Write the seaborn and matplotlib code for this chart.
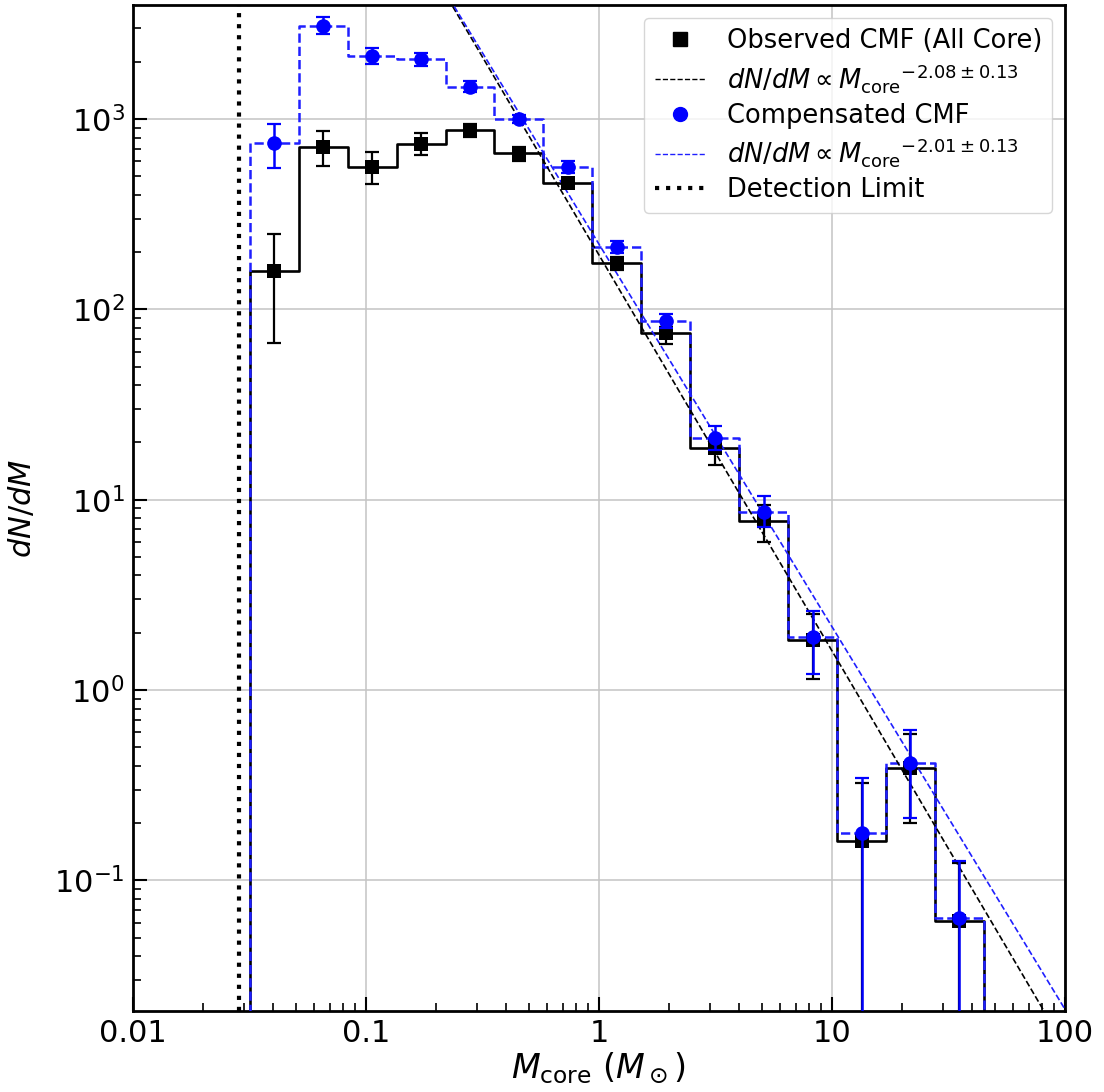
import numpy as np
import pandas as pd
import seaborn as sns
import matplotlib
matplotlib.use("Agg")
import matplotlib.pyplot as plt
from matplotlib.lines import Line2D

# ---------------- data ----------------
bin_edges = [0.0317, 0.0514, 0.0834, 0.1353, 0.2195, 0.3559, 0.5775, 0.9365,
             1.519, 2.464, 3.996, 6.481, 10.51, 17.04, 27.64, 44.83]
bin_centers = [0.0404, 0.0655, 0.1062, 0.1723, 0.2795, 0.4534, 0.7354, 1.193,
               1.935, 3.138, 5.089, 8.254, 13.39, 21.71, 35.2]

obs_values = [159, 716, 557, 739, 875, 661, 462, 176, 74.8, 18.6, 7.72, 1.83,
              0.162, 0.390, 0.0614]
obs_upper = [249, 865, 668, 841, 948, 710, 488, 189, 81, 20.6, 9.4, 2.52,
             0.325, 0.585, 0.123]
obs_lower = [67, 566, 455, 649, 807, 604, 435, 161, 65.5, 15.2, 6.0, 1.15,
             1e-4, 0.20, 1e-4]

comp_values = [750, 3085, 2143, 2060, 1479, 1000, 561, 212, 87, 21, 8.65, 1.90,
               0.177, 0.414, 0.0638]
comp_upper = [945, 3420, 2355, 2213, 1578, 1050, 600, 230, 95, 24.4, 10.4, 2.61,
              0.345, 0.614, 0.126]
comp_lower = [551, 2785, 1945, 1897, 1387, 950, 522, 197, 79.4, 18.2, 7.2, 1.21,
              1e-4, 0.213, 1e-4]

fit_obs_norm, fit_obs_slope = 193.0, -2.08
fit_comp_norm, fit_comp_slope = 220.0, -2.01
detection_limit = 0.0285

x_lim = (0.01, 100)
y_lim = (0.0206, 3975)

# ---------------- figure ----------------
sns.set_style("white")
plt.rcParams["font.family"] = ["DejaVu Sans"]
plt.rcParams["mathtext.fontset"] = "dejavusans"
for key in ["text.color", "axes.labelcolor", "xtick.color", "ytick.color",
            "axes.edgecolor"]:
    plt.rcParams[key] = "black"

fig = plt.figure(figsize=(11.04, 10.92), dpi=100)
ax = fig.add_axes([0.1205, 0.0742, 0.8442, 0.9212])
ax.set_xscale("log")
ax.set_yscale("log")

base = 1e-6
edges = np.array(bin_edges)


def step_frame(values):
    xs = np.repeat(edges, 2)
    ys = np.concatenate([[base], np.repeat(np.array(values), 2), [base]])
    return pd.DataFrame({"x": xs, "y": ys})


fit_x = np.logspace(np.log10(x_lim[0]), np.log10(x_lim[1]), 200)
df_fit = pd.DataFrame({
    "x": fit_x,
    "obs": fit_obs_norm * fit_x ** fit_obs_slope,
    "comp": fit_comp_norm * fit_x ** fit_comp_slope,
})

BLUE = "#0000ff"

sns.lineplot(data=step_frame(obs_values), x="x", y="y", estimator=None, sort=False,
             color="black", lw=1.9, ax=ax, zorder=3)
sns.lineplot(data=step_frame(comp_values), x="x", y="y", estimator=None, sort=False,
             color="#1f1fff", lw=1.8, linestyle="--", ax=ax, zorder=3.1)

sns.lineplot(data=df_fit, x="x", y="obs", color="black", lw=1.2, linestyle="--",
             ax=ax, zorder=4)
sns.lineplot(data=df_fit, x="x", y="comp", color="#1f1fff", lw=1.2, linestyle="--",
             ax=ax, zorder=4)

ax.axvline(detection_limit, color="black", lw=3.0, linestyle=":", zorder=4)

ov = np.array(obs_values)
cv = np.array(comp_values)
ax.errorbar(bin_centers, ov,
            yerr=[ov - np.array(obs_lower), np.array(obs_upper) - ov],
            fmt="none", ecolor="black", elinewidth=1.6, capsize=5, capthick=1.6,
            zorder=5)
sns.scatterplot(x=bin_centers, y=obs_values, marker="s", color="black", s=100,
                edgecolor="black", linewidth=0, ax=ax, zorder=6)
ax.errorbar(bin_centers, cv,
            yerr=[cv - np.array(comp_lower), np.array(comp_upper) - cv],
            fmt="none", ecolor=BLUE, elinewidth=1.8, capsize=5, capthick=1.6,
            zorder=7)
sns.scatterplot(x=bin_centers, y=comp_values, marker="o", color=BLUE, s=110,
                edgecolor=BLUE, linewidth=0, ax=ax, zorder=8)

ax.set_xlim(*x_lim)
ax.set_ylim(*y_lim)

ax.grid(True, which="major", color="#c4c4c4", lw=1.1)
ax.set_axisbelow(True)
for s in ax.spines.values():
    s.set_linewidth(2.0)
    s.set_color("black")

ax.set_xticks([0.01, 0.1, 1, 10, 100])
ax.set_xticklabels(["0.01", "0.1", "1", "10", "100"])
ax.tick_params(axis="both", which="major", direction="in", length=10, width=1.5,
               labelsize=22, bottom=True, left=True, top=False, right=False, pad=6)
ax.tick_params(axis="both", which="minor", direction="in", length=5.5, width=1.2,
               bottom=True, left=True, top=False, right=False)

ax.set_xlabel(r"$M_{\rm core}$ ($M_\odot$)", fontsize=24, labelpad=2)
ax.set_ylabel(r"$dN/dM$", fontsize=22, labelpad=12)

handles = [
    Line2D([], [], marker="s", color="black", linestyle="none", markersize=10),
    Line2D([], [], color="black", lw=1.0, linestyle="--"),
    Line2D([], [], marker="o", color=BLUE, linestyle="none", markersize=10),
    Line2D([], [], color="#1f1fff", lw=1.0, linestyle="--"),
    Line2D([], [], color="black", lw=3.0, linestyle=":"),
]
labels = [
    "Observed CMF (All Core)",
    r"$dN/dM \propto {M_{\rm core}}^{-2.08\pm0.13}$",
    "Compensated CMF",
    r"$dN/dM \propto {M_{\rm core}}^{-2.01\pm0.13}$",
    "Detection Limit",
]
ax.legend(handles, labels, loc="upper right", fontsize=18.5, frameon=True,
          fancybox=True, framealpha=0.8, edgecolor="#cccccc",
          handlelength=2.0, labelspacing=0.3)

fig.savefig("out.png", dpi=100)
